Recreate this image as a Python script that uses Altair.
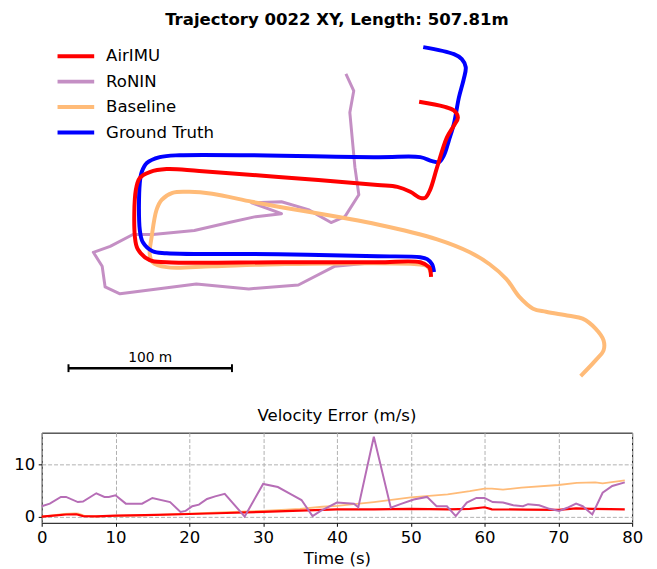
import altair as alt
import pandas as pd

# ---------------- trajectory data (metres) ----------------
series_names = ["AirIMU", "RoNIN", "Baseline", "Ground Truth"]
series_colors = ["#ff0000", "#c48fc4", "#ffbb78", "#0000ff"]

gt_x = [223.6, 222.4, 219.4, 215.2, 189.1, 128.5, 60.0, 51.5, 45.5, 43.6, 43.6, 44.8, 47.9, 55.8,
        67.9, 189.1, 215.2, 222.4, 226.7, 229.7, 232.7, 235.8, 238.8, 241.8, 243.0, 240.6, 235.8, 217.0]
gt_y = [58.8, 63.6, 66.7, 67.9, 68.5, 69.7, 70.3, 71.5, 77.0, 84.8, 113.3, 120.0, 125.5, 129.1,
        130.3, 129.1, 129.1, 126.7, 126.1, 130.3, 139.4, 149.7, 165.5, 177.0, 184.2, 189.1, 192.1, 196.4]

air_x = [221.8, 221.2, 220.6, 215.2, 189.1, 128.5, 60.0, 49.7, 42.4, 40.6, 41.2, 43.6, 49.7, 60.0,
         80.0, 128.5, 189.1, 201.2, 209.1, 215.2, 218.2, 221.2, 225.5, 231.5, 235.8, 238.2, 235.8, 229.7, 214.5]
air_y = [55.8, 60.6, 61.8, 64.8, 64.8, 64.8, 64.8, 66.1, 72.7, 80.6, 109.1, 116.4, 120.0, 121.8,
         120.6, 117.0, 112.1, 110.9, 107.9, 104.2, 104.2, 109.1, 123.0, 141.2, 148.5, 153.3, 157.6, 160.0, 163.0]

base_x = [221.8, 219.4, 213.3, 128.5, 87.9, 60.0, 51.5, 49.7, 50.9, 53.9, 57.0, 63.6, 73.9, 87.9,
          112.1, 128.5, 189.1, 225.5, 245.5, 257.6, 267.9, 275.8, 284.2, 292.1, 306.1, 314.5, 322.4,
          327.3, 327.3, 322.4, 313.3]
base_y = [58.2, 62.4, 63.6, 63.6, 62.4, 61.8, 64.8, 69.7, 80.6, 97.0, 103.0, 107.3, 107.9, 106.7,
          101.8, 98.8, 87.9, 78.8, 70.9, 63.6, 54.5, 43.6, 36.4, 34.5, 32.1, 30.3, 24.2,
          17.0, 10.9, 4.8, -4.8]

ronin_x = [216.4, 189.1, 163.0, 140.6, 110.3, 78.2, 31.5, 22.4, 20.6, 15.2, 25.5, 39.4, 51.5, 77.0,
           98.2, 114.5, 130.3, 112.1, 130.3, 146.7, 160.6, 169.1, 177.6, 175.2, 172.1, 174.5, 169.7]
ronin_y = [64.8, 64.8, 62.4, 50.9, 48.5, 51.5, 45.5, 49.7, 62.4, 70.9, 74.5, 81.8, 81.8, 84.2,
           89.1, 92.7, 94.5, 101.2, 101.8, 97.0, 89.1, 92.7, 106.1, 123.0, 156.4, 169.7, 180.0]

scale_len = 100  # metres
scale_label = "100 m"

# ---------------- velocity error data ----------------
rv_t = [0, 1.1, 2.6, 3.3, 4.9, 5.6, 7.4, 8.5, 9.1, 10.0, 11.4, 13.6, 15.0, 17.4, 18.8, 19.5, 20.4,
        21.3, 22.4, 23.5, 24.8, 27.5, 30.0, 32.0, 33.8, 35.2, 36.7, 37.8, 40.0, 42.3, 42.9, 45.0,
        47.3, 48.6, 50.4, 52.2, 53.5, 54.9, 56.1, 57.6, 58.9, 60.0, 61.1, 62.5, 63.9, 65.2, 65.9,
        67.4, 68.8, 70.1, 71.2, 72.4, 73.3, 74.6, 76.0, 77.3, 79.0]
rv_v = [2.0, 2.5, 3.8, 3.8, 2.8, 2.9, 4.5, 3.8, 3.8, 4.1, 2.5, 2.5, 3.6, 2.8, 0.9, 1.1, 2.0,
        2.3, 3.4, 3.9, 4.4, 0.0, 6.3, 5.7, 4.3, 3.2, 0.1, 1.1, 2.7, 2.5, 1.8, 15.4,
        1.7, 2.4, 3.3, 3.8, 2.0, 2.0, 0.1, 2.7, 3.6, 3.6, 2.8, 2.7, 2.2, 2.0, 2.4,
        2.2, 1.5, 1.1, 1.7, 2.5, 2.0, 0.4, 4.6, 5.9, 6.6]

av_t = [0, 2, 3.3, 4.7, 5.6, 7.4, 10, 14, 20, 25, 30, 35, 40, 45, 50, 55, 58, 60, 61, 65.6, 70,
        72.4, 74.6, 77, 79]
av_v = [0.0, 0.25, 0.4, 0.45, 0.1, 0.05, 0.2, 0.3, 0.5, 0.7, 0.9, 1.15, 1.4, 1.4, 1.5, 1.4, 1.5,
        1.8, 1.4, 1.35, 1.3, 1.6, 1.5, 1.45, 1.4]

bv_t = [0, 1, 2, 3, 4.5, 5, 5.8, 7, 10, 15, 20, 25, 30, 35, 38, 40, 45, 50, 55, 58, 60, 61, 62.5,
        65, 70, 72.5, 75, 76, 79]
bv_v = [0.0, 0.15, 0.35, 0.5, 0.6, 0.55, 0.15, 0.05, 0.15, 0.3, 0.55, 0.85, 1.1, 1.5, 1.9, 2.05,
        2.8, 3.7, 4.3, 4.9, 5.4, 5.4, 5.2, 5.6, 6.1, 6.5, 6.6, 6.4, 7.0]


def traj_df(name, xs, ys):
    return pd.DataFrame({"x": xs, "y": ys, "i": list(range(len(xs))), "series": name})


FONT = "DejaVu Sans"
FS = 16.7
xsc = alt.Scale(domain=[-16.4, 344.8], nice=False, zero=False)
ysc = alt.Scale(domain=[-15.2, 203.0], nice=False, zero=False)
csc = alt.Scale(domain=series_names, range=series_colors)
leg = alt.Legend(title=None, orient="none", legendX=14, legendY=9, symbolType="stroke",
                 symbolSize=1369, symbolStrokeWidth=4, labelFontSize=FS, labelFont=FONT,
                 labelColor="black", labelOffset=10, clipHeight=22, rowPadding=3.7, padding=0)


def traj_layer(df, width, interp):
    return alt.Chart(df).mark_line(strokeWidth=width, interpolate=interp, strokeCap="butt",
                                   strokeJoin="round").encode(
        x=alt.X("x:Q", scale=xsc, axis=None),
        y=alt.Y("y:Q", scale=ysc, axis=None),
        order=alt.Order("i:Q"),
        color=alt.Color("series:N", scale=csc, legend=leg),
    )


l_ronin = traj_layer(traj_df("RoNIN", ronin_x, ronin_y), 3, "linear")
l_base = traj_layer(traj_df("Baseline", base_x, base_y), 4, "catmull-rom")
l_gt = traj_layer(traj_df("Ground Truth", gt_x, gt_y), 4, "catmull-rom")
l_air = traj_layer(traj_df("AirIMU", air_x, air_y), 4, "catmull-rom")

bar_df = pd.DataFrame({"x": [0], "x2": [scale_len], "y": [0]})
cap_df = pd.DataFrame({"x": [0, scale_len], "y": [-2.4, -2.4], "y2": [2.4, 2.4]})
lab_df = pd.DataFrame({"x": [scale_len / 2], "y": [0], "t": [scale_label]})

bar = alt.Chart(bar_df).mark_rule(color="black", strokeWidth=2.5).encode(
    x=alt.X("x:Q", scale=xsc, axis=None), x2="x2:Q", y=alt.Y("y:Q", scale=ysc, axis=None))
caps = alt.Chart(cap_df).mark_rule(color="black", strokeWidth=2).encode(
    x=alt.X("x:Q", scale=xsc, axis=None), y=alt.Y("y:Q", scale=ysc, axis=None), y2="y2:Q")
lab = alt.Chart(lab_df).mark_text(font=FONT, fontSize=13.9, baseline="bottom", dy=-3,
                                  color="black").encode(
    x=alt.X("x:Q", scale=xsc, axis=None), y=alt.Y("y:Q", scale=ysc, axis=None), text="t:N")

top = alt.layer(l_ronin, l_base, l_gt, l_air, bar, caps, lab).properties(
    width=596, height=360,
    title=alt.TitleParams("Trajectory 0022 XY, Length: 507.81m", font=FONT, fontSize=FS,
                          fontWeight="bold", color="black", offset=8, anchor="middle"),
    view=alt.ViewBackground(stroke="transparent"),
)

# ---------------- bottom panel ----------------
xax = alt.Axis(values=list(range(0, 81, 10)), title="Time (s)", titleFont=FONT, titleFontSize=FS,
               titleFontWeight="normal", titleColor="black", labelFont=FONT, labelFontSize=FS,
               labelColor="black", labelFlush=False, tickSize=3.5, tickColor="black",
               labelPadding=3.5, titlePadding=4, domain=False, grid=True, gridDash=[4, 2],
               gridColor="#b0b0b0", gridWidth=1)
yax = alt.Axis(values=[0, 10], title=None, labelFont=FONT, labelFontSize=FS, labelColor="black",
               tickSize=3.5, tickColor="black", labelPadding=3.5, domain=False, grid=True,
               gridDash=[4, 2], gridColor="#b0b0b0", gridWidth=1)
txs = alt.Scale(domain=[0, 80], nice=False)
vys = alt.Scale(domain=[-1.2, 16.2], nice=False, zero=False)


def vel_layer(ts, vs, color, width):
    df = pd.DataFrame({"t": ts, "v": vs})
    return alt.Chart(df).mark_line(color=color, strokeWidth=width).encode(
        x=alt.X("t:Q", scale=txs, axis=xax),
        y=alt.Y("v:Q", scale=vys, axis=yax),
    )


bottom = alt.layer(
    vel_layer(bv_t, bv_v, "#ffbb78", 1.8),
    vel_layer(av_t, av_v, "#ff0000", 2.2),
    vel_layer(rv_t, rv_v, "#b66db6", 2.0),
).properties(
    width=596, height=91,
    title=alt.TitleParams("Velocity Error (m/s)", font=FONT, fontSize=FS, fontWeight="normal",
                          color="black", offset=8, anchor="middle"),
    view=alt.ViewBackground(stroke="black", strokeWidth=1),
)

chart = alt.vconcat(top, bottom, spacing=13).properties(
    padding={"left": 5, "top": 0, "right": 5, "bottom": 0}
).configure(font=FONT)

chart.save("out.html", embed_options={"renderer": "svg", "actions": False})
